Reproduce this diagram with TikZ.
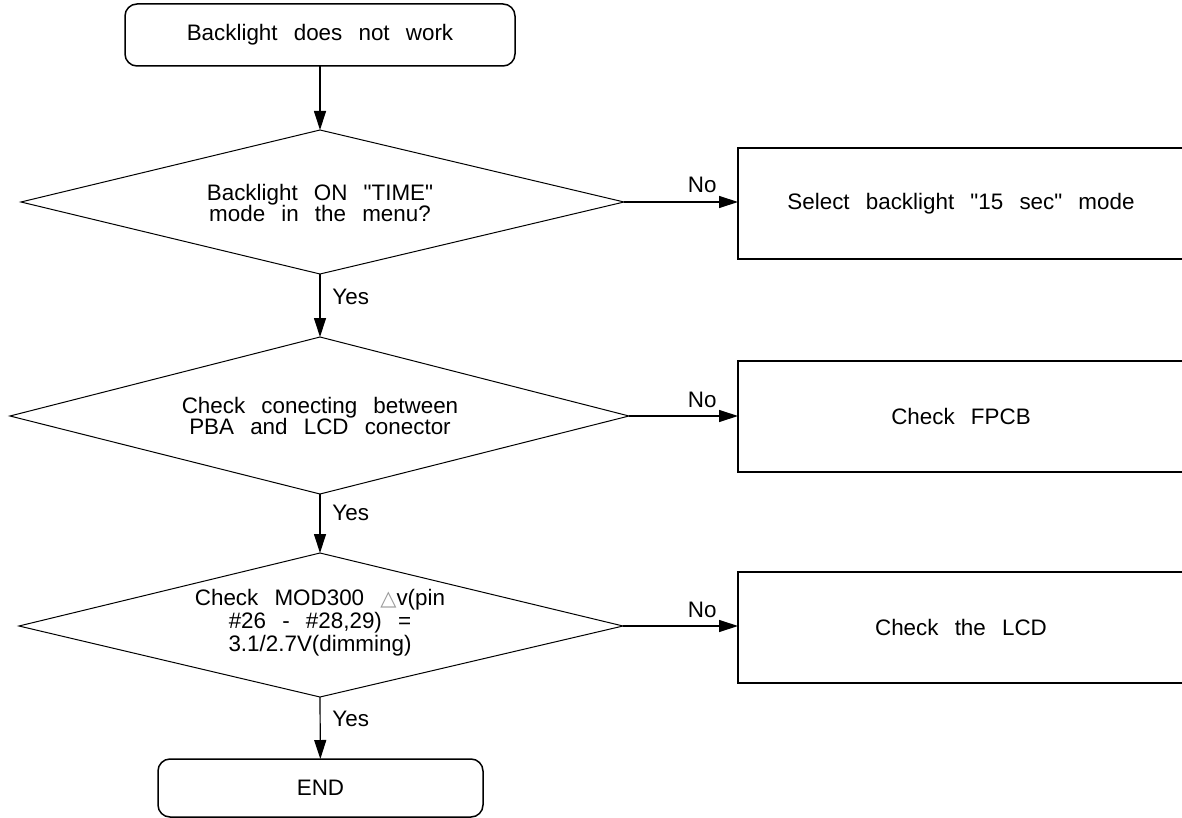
\documentclass[tikz,border=0pt]{standalone}
\usepackage{fontspec}
\newfontfamily\arialf{Liberation Sans}[WordSpace=2.6]
\newfontfamily\dvsans{DejaVu Sans}
\usetikzlibrary{arrows.meta,calc}
\begin{document}
\begin{tikzpicture}[x=0.5pt,y=-0.5pt,
  font=\arialf\fontsize{11.2}{10.5}\selectfont,
  term/.style={draw, rounded corners=6pt, line width=0.75pt, inner sep=0pt, outer sep=0pt},
  dia/.style={draw, line width=0.5pt, line join=miter},
  txt/.style={inner sep=0pt, align=center},
  process/.style={draw, line width=0.85pt, inner sep=0pt, outer sep=0pt, minimum width=223pt, minimum height=55.5pt},
  arr/.style={-{Triangle[length=9.5pt,width=6pt]}, line width=0.6pt},
  lbl/.style={inner sep=0pt}]
\useasboundingbox (0,0) rectangle (1182,818);
\clip (0,0) rectangle (1182,818);

% terminals
\node[term, minimum width=195pt, minimum height=31pt] (start) at (320,35) {Backlight does not work};
\node[term, minimum width=162.5pt, minimum height=29pt] (end) at (320.5,788) {END};

% decision 1
\coordinate (d1n) at (320,130);
\coordinate (d1s) at (320,274);
\coordinate (d1w) at (21,202);
\coordinate (d1e) at (624,202);
\draw[dia] (d1n) -- (d1e) -- (d1s) -- (d1w) -- cycle;
\node[txt] (d1) at (320,203) {Backlight ON "TIME"\\mode in the menu?};

% decision 2
\coordinate (d2n) at (320,337);
\coordinate (d2s) at (320,494);
\coordinate (d2w) at (10,416);
\coordinate (d2e) at (629,416);
\draw[dia] (d2n) -- (d2e) -- (d2s) -- (d2w) -- cycle;
\node[txt] (d2) at (320,416) {Check conecting between\\PBA and LCD conector};

% decision 3
\coordinate (d3n) at (320,553);
\coordinate (d3s) at (320,697);
\coordinate (d3w) at (19,626);
\coordinate (d3e) at (623,626);
\draw[dia] (d3n) -- (d3e) -- (d3s) -- (d3w) -- cycle;
\node[txt, font=\arialf\fontsize{11.2}{9.3}\selectfont] (d3) at (320,623)
  {Check MOD300 {\dvsans\color{gray!80}\fontsize{10.5}{9}\selectfont △}v(pin\\\#26 - \#28,29) =\\3.1/2.7V(dimming)};

% process boxes
\node[process] (b1) at (961,203.5) {Select backlight "15 sec" mode};
\node[process] (b2) at (961,416.5) {Check FPCB};
\node[process] (b3) at (961,627.5) {Check the LCD};

% connectors
\draw[arr] (start) -- (d1n);
\draw[arr] (d1s) -- (d2n);
\draw[arr] (d2s) -- (d3n);
\draw[arr] (d3s) -- (end);

\draw[arr] (d1e) -- (d1e -| b1.west);
\draw[arr] (d2e) -- (d2e -| b2.west);
\draw[arr] (d3e) -- (d3e -| b3.west);

\node[lbl, anchor=base east] (no1) at ($(d1e -| b1.west)+(-10.5pt,4.5pt)$) {No};
\node[lbl, anchor=base east] (no2) at ($(d2e -| b2.west)+(-10.5pt,4.5pt)$) {No};
\node[lbl, anchor=base east] (no3) at ($(d3e -| b3.west)+(-10.5pt,4.5pt)$) {No};

\node[lbl, anchor=base west] (yes1) at ($(d1s)+(6pt,-15pt)$) {Yes};
\node[lbl, anchor=base west] (yes2) at ($(d2s)+(6pt,-13pt)$) {Yes};
\node[lbl, anchor=base west] (yes3) at ($(d3s)+(6pt,-14.5pt)$) {Yes};
\end{tikzpicture}
\end{document}
